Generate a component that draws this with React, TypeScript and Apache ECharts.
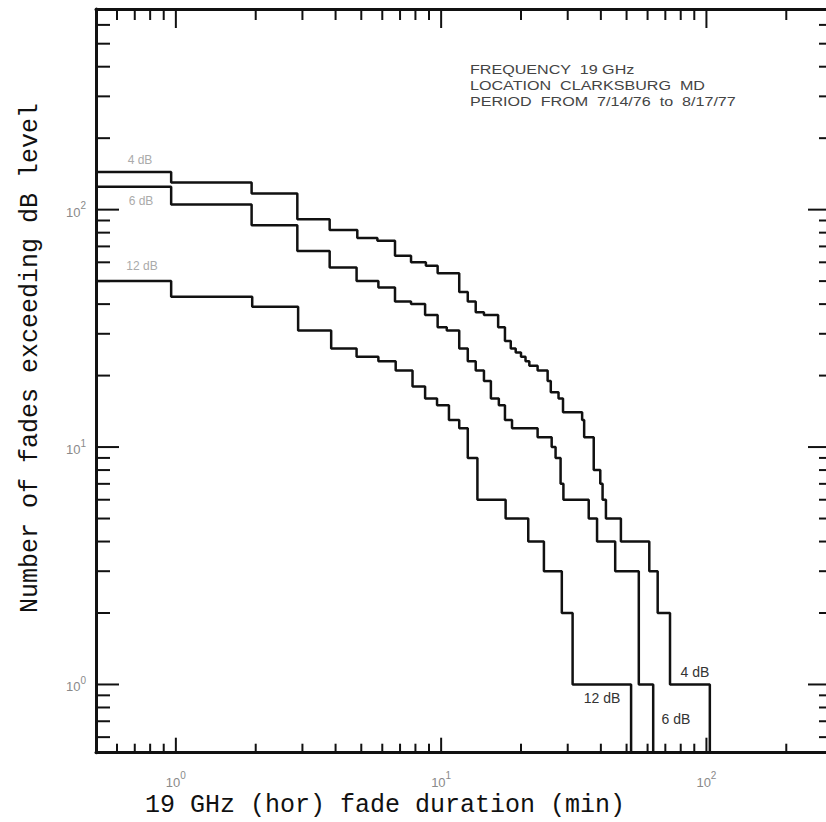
import React, { useEffect, useRef } from "react";
import * as echarts from "echarts";

const X_MIN = 0.5;
const X_MAX = 300;
const Y_MIN = 0.516;
const Y_MAX = 700;

// step boundaries (fade duration, min) and number of fades for each threshold
const dur4dB = [0.5, 0.96, 1.93, 2.87, 3.8, 4.83, 5.75, 6.7, 7.7, 8.76, 9.7, 11.7, 12.6, 13.5, 14.5, 16.4, 17.4, 18.3, 19.1, 20.0, 20.8, 21.5, 23.1, 25.2, 25.9, 27.7, 28.8, 34.0, 34.6, 37.6, 39.8, 40.6, 41.8, 47.6, 60.9, 65.5, 72.9, 103];
const cnt4dB = [144, 130, 117, 91, 82, 76, 74, 64, 60, 58, 54, 45, 41, 37, 36, 32, 28, 26, 25, 24, 23, 22, 21, 19, 17, 16, 14, 13, 11, 8, 7, 6, 5, 4, 3, 2, 1];

const dur6dB = [0.5, 0.96, 1.93, 2.87, 3.8, 4.8, 5.8, 6.7, 7.7, 8.7, 9.7, 10.5, 11.7, 12.6, 13.5, 14.5, 15.4, 16.5, 17.4, 18.5, 23.1, 26.1, 27.0, 28.2, 28.9, 36.0, 38.7, 45.3, 55.6, 63];
const cnt6dB = [125, 105, 86, 67, 57, 50, 47, 41, 40, 36, 32, 31, 26, 23, 21, 19, 16, 15, 13, 12, 11, 10, 9, 7, 6, 5, 4, 3, 1];

const dur12dB = [0.5, 0.96, 1.94, 2.89, 3.85, 4.8, 5.8, 6.74, 7.8, 8.7, 9.65, 10.7, 11.7, 12.6, 13.7, 17.5, 21.3, 24.4, 28.5, 31.3, 52];
const cnt12dB = [50, 43, 39, 31, 26, 24, 23, 21, 18, 16, 15, 13, 12, 9, 6, 5, 4, 3, 2, 1];

const xTickValues = [0.6, 0.7, 0.8, 0.9, 1, 2, 3, 4, 5, 6, 7, 8, 9, 10, 20, 30, 40, 50, 60, 70, 80, 90, 100, 200];
const yTickValues = [0.6, 0.7, 0.8, 0.9, 1, 2, 3, 4, 5, 6, 7, 8, 9, 10, 20, 30, 40, 50, 60, 70, 80, 90, 100, 200, 300, 400, 500, 600];

const annotationLines = [
  "FREQUENCY  19 GHz",
  "LOCATION  CLARKSBURG  MD",
  "PERIOD  FROM  7/14/76  to  8/17/77",
];

const xTitle = "19 GHz (hor) fade duration (min)";
const yTitle = "Number of fades exceeding dB level";

function stairs(d: number[], c: number[]): number[][] {
  const pts = c.map((v, i) => [d[i], v]);
  const end = d[d.length - 1];
  pts.push([end, c[c.length - 1]]);
  pts.push([end, Y_MIN]);
  return pts;
}

function isPow10(v: number) {
  const e = Math.log10(v);
  return Math.abs(e - Math.round(e)) < 1e-6;
}

// [major, minor] tick length per side: bottom, top, left, right
const TICK_LEN = [
  [15, 9],
  [19, 11],
  [23, 14],
  [25, 14],
];

export default function App() {
  const ref = useRef<HTMLDivElement>(null);
  useEffect(() => {
    if (!ref.current) return;
    const chart = echarts.init(ref.current, undefined, { renderer: "svg" });

    const tickData: number[][] = [];
    xTickValues.forEach((v) => {
      tickData.push([v, Y_MIN, 0]);
      tickData.push([v, Y_MAX, 1]);
    });
    yTickValues.forEach((v) => {
      tickData.push([X_MIN, v, 2]);
      tickData.push([X_MAX, v, 3]);
    });

    const labelFormatter = (v: number) => {
      if (!isPow10(v)) return "";
      return `{b|10}{s|${Math.round(Math.log10(v))}}`;
    };
    const labelRich = {
      b: { fontSize: 13, color: "#8a8a8a", fontFamily: "Liberation Sans", lineHeight: 18, verticalAlign: "bottom" },
      s: { fontSize: 10, color: "#8a8a8a", fontFamily: "Liberation Sans", verticalAlign: "top", lineHeight: 18, padding: [0, 0, 8, 0] },
    };

    const lineStyle = { color: "#111", width: 2.5 };
    const mkLine = (name: string, d: number[], c: number[]) => ({
      name,
      type: "line",
      step: "end",
      data: stairs(d, c),
      showSymbol: false,
      symbol: "none",
      lineStyle,
      xAxisIndex: 0,
      yAxisIndex: 0,
      z: 3,
    });

    const axisLine = { show: true, lineStyle: { color: "#111", width: 3 } };

    chart.setOption({
      animation: false,
      backgroundColor: "#fff",
      grid: { left: 96, top: 9, width: 737, height: 743.7, containLabel: false, outerBoundsMode: "none" },
      xAxis: [
        {
          type: "log",
          logBase: 10,
          min: X_MIN,
          max: X_MAX,
          position: "bottom",
          axisLine,
          axisTick: { show: false },
          splitLine: { show: false },
          minorTick: { show: false },
          axisLabel: { formatter: labelFormatter, rich: labelRich, margin: 18, showMinLabel: true, showMaxLabel: true },
        },
        {
          type: "log",
          logBase: 10,
          min: X_MIN,
          max: X_MAX,
          position: "top",
          axisLine,
          axisTick: { show: false },
          splitLine: { show: false },
          axisLabel: { show: false },
        },
      ],
      yAxis: [
        {
          type: "log",
          logBase: 10,
          min: Y_MIN,
          max: Y_MAX,
          position: "left",
          axisLine,
          axisTick: { show: false },
          splitLine: { show: false },
          axisLabel: { formatter: labelFormatter, rich: labelRich, margin: 10 },
        },
        {
          type: "log",
          logBase: 10,
          min: Y_MIN,
          max: Y_MAX,
          position: "right",
          axisLine,
          axisTick: { show: false },
          splitLine: { show: false },
          axisLabel: { show: false },
        },
      ],
      series: [
        mkLine("4 dB", dur4dB, cnt4dB),
        mkLine("6 dB", dur6dB, cnt6dB),
        mkLine("12 dB", dur12dB, cnt12dB),
        {
          type: "custom",
          name: "ticks",
          xAxisIndex: 0,
          yAxisIndex: 0,
          data: tickData,
          clip: false,
          silent: true,
          z: 4,
          renderItem: (params: any, api: any) => {
            const x = api.value(0);
            const y = api.value(1);
            const dir = api.value(2);
            const p = api.coord([x, y]);
            const v = dir < 2 ? x : y;
            const len = TICK_LEN[dir][isPow10(v) ? 0 : 1];
            let x2 = p[0];
            let y2 = p[1];
            if (dir === 0) y2 -= len;
            else if (dir === 1) y2 += len;
            else if (dir === 2) x2 += len;
            else x2 -= len;
            return {
              type: "line",
              shape: { x1: p[0], y1: p[1], x2, y2 },
              style: { stroke: "#111", lineWidth: 2 },
            };
          },
        },
      ],
      graphic: [
        {
          type: "text",
          x: 30,
          y: 358,
          rotation: Math.PI / 2,
          style: { text: yTitle, font: '25px "Liberation Mono"', fill: "#111", align: "center", verticalAlign: "middle" },
        },
        {
          type: "text",
          x: 385,
          y: 805,
          style: { text: xTitle, font: '25px "Liberation Mono"', fill: "#111", align: "center", verticalAlign: "middle" },
        },
        ...annotationLines.map((t, i) => ({
          type: "text",
          x: 470,
          y: 70 + i * 16,
          scaleX: 1.24,
          style: { text: t, font: '13px "Liberation Sans"', fill: "#444", align: "left", verticalAlign: "middle" },
        })),
        { type: "text", x: 140, y: 160, style: { text: "4 dB", font: '12px "Liberation Sans"', fill: "#aaa", align: "center", verticalAlign: "middle" } },
        { type: "text", x: 141, y: 201, style: { text: "6 dB", font: '12px "Liberation Sans"', fill: "#aaa", align: "center", verticalAlign: "middle" } },
        { type: "text", x: 142, y: 266, style: { text: "12 dB", font: '12px "Liberation Sans"', fill: "#aaa", align: "center", verticalAlign: "middle" } },
        { type: "text", x: 695, y: 672, style: { text: "4 dB", font: '14px "Liberation Sans"', fill: "#333", align: "center", verticalAlign: "middle" } },
        { type: "text", x: 602, y: 698, style: { text: "12 dB", font: '14px "Liberation Sans"', fill: "#333", align: "center", verticalAlign: "middle" } },
        { type: "text", x: 676, y: 719, style: { text: "6 dB", font: '14px "Liberation Sans"', fill: "#333", align: "center", verticalAlign: "middle" } },
      ],
    });
    return () => chart.dispose();
  }, []);

  return (
    <div
      ref={ref}
      style={{ position: "fixed", left: 0, top: 0, width: 826, height: 822, background: "#fff" }}
    />
  );
}
